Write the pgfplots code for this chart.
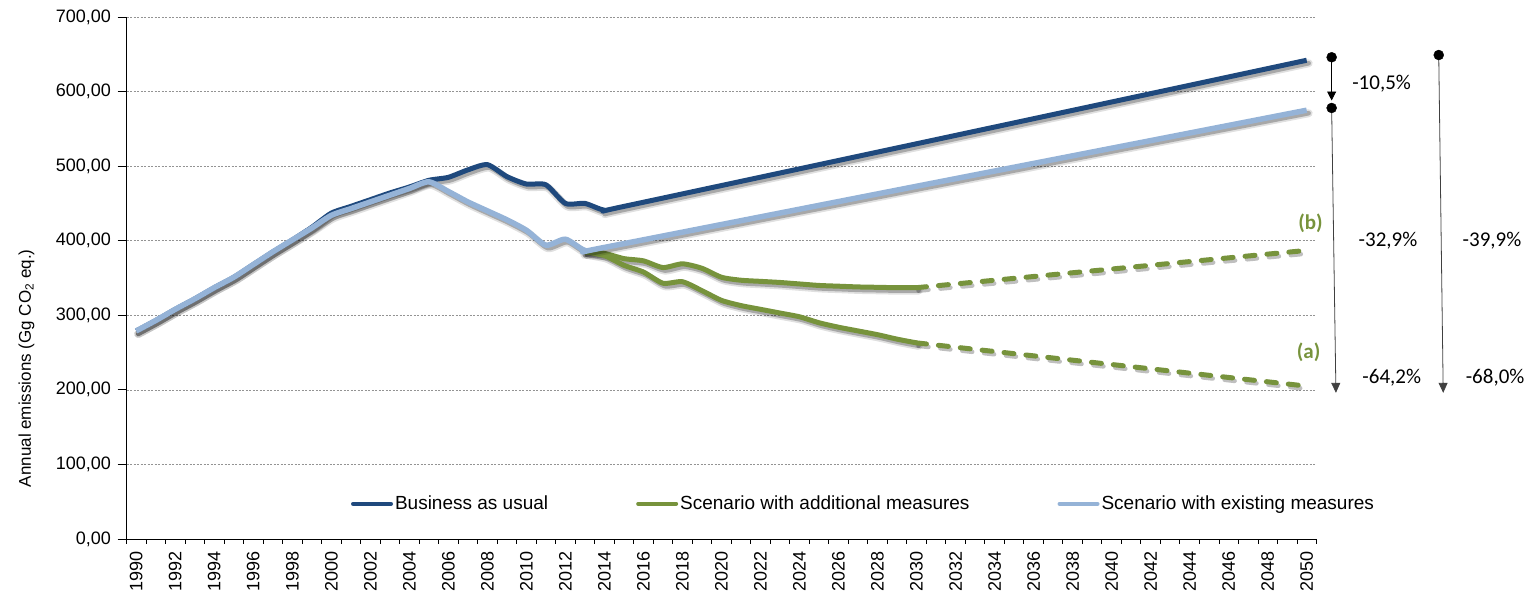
\documentclass[border=0pt]{standalone}
\usepackage{fontspec}
\setmainfont{Liberation Sans}
\newfontfamily\calibri{Carlito}
\usepackage{pgfplots}
\usepackage{pgfplotstable}
\pgfplotsset{compat=1.18}
\usetikzlibrary{arrows.meta}
\definecolor{bau}{RGB}{31,73,125}
\definecolor{addm}{RGB}{119,147,60}
\definecolor{exm}{RGB}{149,179,215}

\pgfplotstableread{
year val
1990 279
1991 293
1992 308
1993 322
1994 337
1995 351
1996 368
1997 385
1998 401
1999 418
2000 437
2001 446
2002 455
2003 464
2004 472
2005 481
2006 485
2007 495
2008 502
2009 486
2010 476
2011 475
2012 450
2013 450
2014 441
2015 446
2030 530
2050 642
}\bau

\pgfplotstableread{
year val
1990 279
1991 293
1992 308
1993 322
1994 337
1995 351
1996 368
1997 385
1998 401
1999 417
2000 434
2001 443
2002 452
2003 461
2004 470
2005 479
2006 466
2007 452
2008 440
2009 428
2010 414
2011 394
2012 402
2013 387
2014 391
2030 473
2050 575
}\exm

\pgfplotstableread{
year val
2013 385
2014 383
2015 376
2016 373
2017 364
2018 369
2019 363
2020 351
2021 347
2022 345.5
2023 344
2024 342
2025 340
2026 339
2027 338
2028 337.5
2029 337
2030 337
}\addb

\pgfplotstableread{
year val
2030 337
2050 387
}\addbp

\pgfplotstableread{
year val
2013 385
2014 380
2015 367
2016 358
2017 343
2018 345
2019 333
2020 320
2021 313
2022 308
2023 303
2024 298
2025 290
2026 284
2027 279
2028 274
2029 268
2030 263
}\adda

\pgfplotstableread{
year val
2030 263
2050 205
}\addap

\begin{document}
\begin{tikzpicture}
\useasboundingbox (0,0) rectangle (1535pt,591pt);
\begin{axis}[
  at={(126.5pt,52pt)}, anchor=south west,
  scale only axis, width=1190pt, height=522pt,
  xmin=1989.5, xmax=2050.5, ymin=0, ymax=700,
  axis x line=bottom, axis y line=left,
  axis line style={-, black, line width=0.8pt},
  xtick={1990,1992,...,2050},
  minor xtick={1989.5,1990.5,...,2050.5},
  major x tick style={draw=none},
  tick align=outside,
  tick style={black, line width=0.8pt},
  major tick length=9pt, minor tick length=5pt,
  xticklabel style={rotate=90, anchor=east, /pgf/number format/1000 sep={}},
  ytick={0,100,...,700},
  yticklabel style={xshift=-3pt, /pgf/number format/.cd, fixed, fixed zerofill, precision=2, use comma, 1000 sep={}},
  /pgf/number format/assume math mode=true,
  ymajorgrids,
  grid style={gray!85, dash pattern=on 2pt off 1.5pt, line width=0.6pt},
  font=\fontsize{18}{21}\selectfont,
  ylabel={Annual emissions (Gg CO\textsubscript{2} eq.)},
  ylabel style={at={(axis description cs:-0.084,0.327)}, anchor=center, font=\fontsize{17}{20}\selectfont},
  clip=false,
  legend style={draw=none, fill=none, at={(axis description cs:0.186,0.0674)}, anchor=west,
    legend columns=3, font=\fontsize{19}{22}\selectfont,
    /tikz/every even column/.append style={column sep=86pt}},
  legend cell align=left,
  legend image code/.code={\draw[#1, line width=4pt, line cap=round] (0pt,0pt) -- (38pt,0pt);},
  shadow/.style={black, opacity=0.12, line width=8pt, xshift=2pt, yshift=-3pt, forget plot, line join=round, line cap=round},
  shadowb/.style={black, opacity=0.25, line width=4.5pt, xshift=2pt, yshift=-3pt, forget plot, line join=round, line cap=round},
  every axis plot/.append style={line join=round},
]
% Business as usual
\addplot[shadow, smooth, tension=0.4] table[x=year,y=val]{\bau};
\addplot[shadowb, smooth, tension=0.4] table[x=year,y=val]{\bau};
\addplot[bau, line width=5pt, smooth, tension=0.4] table[x=year,y=val]{\bau};
\addlegendentry{Business as usual}
% additional measures
\addplot[shadow, smooth, tension=0.4] table[x=year,y=val]{\addb};
\addplot[shadow, smooth, tension=0.4] table[x=year,y=val]{\adda};
\addplot[shadowb, smooth, tension=0.4] table[x=year,y=val]{\addb};
\addplot[shadowb, smooth, tension=0.4] table[x=year,y=val]{\adda};
\addplot[shadowb, dash pattern=on 10pt off 12pt] table[x=year,y=val]{\addbp};
\addplot[shadowb, dash pattern=on 10pt off 12pt] table[x=year,y=val]{\addap};
\addplot[addm, line width=5pt, smooth, tension=0.4] table[x=year,y=val]{\addb};
\addlegendentry{Scenario with additional measures}
\addplot[addm, line width=5pt, smooth, tension=0.4, forget plot] table[x=year,y=val]{\adda};
\addplot[addm, line width=5pt, line cap=round, dash pattern=on 10pt off 12pt, forget plot] table[x=year,y=val]{\addbp};
\addplot[addm, line width=5pt, line cap=round, dash pattern=on 10pt off 12pt, forget plot] table[x=year,y=val]{\addap};
% existing measures
\addplot[shadow, smooth, tension=0.4] table[x=year,y=val]{\exm};
\addplot[shadowb, smooth, tension=0.4] table[x=year,y=val]{\exm};
\addplot[exm, line width=5.5pt, smooth, tension=0.4] table[x=year,y=val]{\exm};
\addlegendentry{Scenario with existing measures}

% annotations
\addplot[black, line width=0.8pt, -{Triangle[width=9pt,length=9pt]}, forget plot] coordinates {(2051.28,646) (2051.28,588)};
\addplot[gray!50!black, line width=0.8pt, -{Triangle[width=9pt,length=10pt]}, forget plot] coordinates {(2051.28,578) (2051.5,196)};
\addplot[gray!50!black, line width=0.8pt, -{Triangle[width=9pt,length=10pt]}, forget plot] coordinates {(2056.77,649) (2057.0,196)};
\addplot[only marks, mark=*, mark size=5pt, black, forget plot] coordinates {(2051.28,646) (2051.28,578) (2056.77,649)};

\node[font=\calibri\fontsize{21}{24}\selectfont] at (axis cs:2053.84,611) {-10,5\%};
\node[font=\calibri\fontsize{21}{24}\selectfont] at (axis cs:2054.17,400) {-32,9\%};
\node[font=\calibri\fontsize{21}{24}\selectfont] at (axis cs:2054.36,216) {-64,2\%};
\node[font=\calibri\fontsize{21}{24}\selectfont] at (axis cs:2059.5,400) {-39,9\%};
\node[font=\calibri\fontsize{21}{24}\selectfont] at (axis cs:2059.66,216) {-68,0\%};
\node[font=\calibri\bfseries\fontsize{21}{24}\selectfont, text=addm] at (axis cs:2050.2,424) {(b)};
\node[font=\calibri\bfseries\fontsize{21}{24}\selectfont, text=addm] at (axis cs:2050.1,250) {(a)};
\end{axis}
\end{tikzpicture}
\end{document}
